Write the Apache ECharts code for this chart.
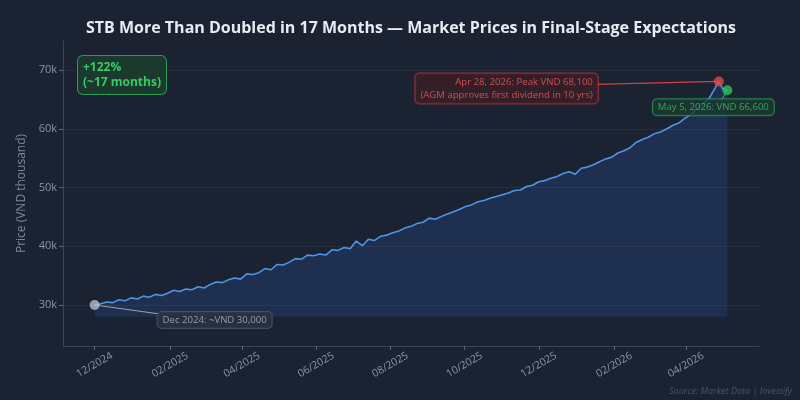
<!DOCTYPE html>
<html>
<head>
<meta charset="utf-8">
<script src="https://cdn.jsdelivr.net/npm/echarts@6/dist/echarts.min.js"></script>
<style>
  html, body { margin: 0; background: #1b2333; }
  #chart { width: 800px; height: 400px; }
</style>
</head>
<body>
<div id="chart"></div>
<script>
// STB close, VND thousand (~5-day steps)
const dates = [
  '2024-12-01','2024-12-06','2024-12-11','2024-12-16','2024-12-21','2024-12-26','2024-12-31',
  '2025-01-05','2025-01-10','2025-01-15','2025-01-20','2025-01-25','2025-01-30',
  '2025-02-04','2025-02-09','2025-02-14','2025-02-19','2025-02-24',
  '2025-03-01','2025-03-06','2025-03-11','2025-03-16','2025-03-21','2025-03-26','2025-03-31',
  '2025-04-05','2025-04-10','2025-04-15','2025-04-20','2025-04-25','2025-04-30',
  '2025-05-05','2025-05-10','2025-05-15','2025-05-20','2025-05-25','2025-05-30',
  '2025-06-04','2025-06-09','2025-06-14','2025-06-19','2025-06-24','2025-06-29',
  '2025-07-04','2025-07-09','2025-07-14','2025-07-19','2025-07-24','2025-07-29',
  '2025-08-03','2025-08-08','2025-08-13','2025-08-18','2025-08-23','2025-08-28',
  '2025-09-02','2025-09-07','2025-09-12','2025-09-17','2025-09-22','2025-09-27',
  '2025-10-02','2025-10-07','2025-10-12','2025-10-17','2025-10-22','2025-10-27',
  '2025-11-01','2025-11-06','2025-11-11','2025-11-16','2025-11-21','2025-11-26',
  '2025-12-01','2025-12-06','2025-12-11','2025-12-16','2025-12-21','2025-12-26','2025-12-31',
  '2026-01-05','2026-01-10','2026-01-15','2026-01-20','2026-01-25','2026-01-30',
  '2026-02-04','2026-02-09','2026-02-14','2026-02-19','2026-02-24',
  '2026-03-01','2026-03-06','2026-03-11','2026-03-16','2026-03-21','2026-03-26','2026-03-31',
  '2026-04-05','2026-04-10','2026-04-15','2026-04-20','2026-04-25','2026-04-28',
  '2026-05-01','2026-05-05'
];
const prices = [
  30.0, 30.2, 30.5, 30.4, 30.9, 30.7, 31.2,
  31.0, 31.5, 31.3, 31.8, 31.6, 32.0,
  32.5, 32.3, 32.7, 32.6, 33.1,
  32.9, 33.5, 33.9, 33.8, 34.3, 34.6, 34.4,
  35.3, 35.2, 35.5, 36.2, 36.0, 36.9,
  36.8, 37.3, 37.9, 37.8, 38.5, 38.4,
  38.7, 38.5, 39.4, 39.3, 39.8, 39.6,
  40.9, 40.1, 41.2, 41.0, 41.7, 41.9,
  42.3, 42.6, 43.1, 43.4, 43.9, 44.1,
  44.8, 44.6, 45.1, 45.5, 45.9, 46.3,
  46.8, 47.1, 47.6, 47.8, 48.2, 48.5,
  48.8, 49.1, 49.5, 49.6, 50.2, 50.4,
  51.0, 51.2, 51.6, 51.9, 52.4, 52.7, 52.3,
  53.3, 53.5, 53.9, 54.4, 54.9, 55.2,
  55.9, 56.3, 56.8, 57.7, 58.2,
  58.6, 59.2, 59.5, 60.0, 60.6, 61.0, 61.8,
  62.5, 63.4, 64.3, 65.2, 67.0, 68.1,
  66.9, 66.6
];

const tickDates = ['2024-12-01','2025-02-01','2025-04-01','2025-06-01','2025-08-01',
                   '2025-10-01','2025-12-01','2026-02-01','2026-04-01'];
const yTicks = [30, 40, 50, 60, 70];

const startPoint = ['2024-12-01', 30.0];
const peakPoint = ['2026-04-28', 68.1];
const lastPoint = ['2026-05-05', 66.6];

const FONT = 'Open Sans';

// date string -> timestamp for the numeric x axis
const ts = d => +echarts.time.parse(d);
const pt = p => [ts(p[0]), p[1]];

var chart = echarts.init(document.getElementById('chart'));

const option = {
  backgroundColor: '#1b2333',
  animation: false,
  title: {
    text: 'STB More Than Doubled in 17 Months — Market Prices in Final-Stage Expectations',
    left: 81,
    top: 15,
    textStyle: { color: '#e8ecf2', fontSize: 16, fontWeight: 'bold', fontFamily: FONT },
  },
  grid: { left: 63, right: 41, top: 41, bottom: 54, containLabel: false },
  xAxis: {
    type: 'value',
    min: ts('2024-11-05'),
    max: ts('2026-05-31'),
    splitLine: { show: false },
    axisLine: { lineStyle: { color: '#3a4558', width: 1 } },
    axisTick: {
      show: true, length: 4,
      customValues: tickDates.map(ts),
      lineStyle: { color: '#5a6478' },
    },
    axisLabel: {
      customValues: tickDates.map(ts),
      formatter: v => echarts.time.format(v, '{MM}/{yyyy}', false),
      rotate: 30,
      align: 'center',
      verticalAlign: 'middle',
      margin: 19,
      color: '#8c95a5',
      fontSize: 10.5,
      fontFamily: FONT,
    },
  },
  yAxis: {
    type: 'value',
    min: 23,
    max: 75,
    name: 'Price (VND thousand)',
    nameLocation: 'middle',
    nameGap: 33,
    nameTextStyle: { color: '#7d8697', fontSize: 12, fontFamily: FONT },
    splitLine: { show: false },
    axisLine: { show: true, lineStyle: { color: '#3a4558', width: 1 } },
    axisTick: {
      show: true, length: 4,
      customValues: yTicks,
      lineStyle: { color: '#5a6478' },
    },
    axisLabel: {
      customValues: yTicks,
      formatter: v => v + 'k',
      margin: 6,
      color: '#8c95a5',
      fontSize: 11,
      fontFamily: FONT,
    },
  },
  series: [
    {
      name: 'STB',
      type: 'line',
      data: dates.map((d, i) => [ts(d), prices[i]]),
      showSymbol: false,
      lineStyle: { color: '#4f94e6', width: 1.6 },
      areaStyle: { color: 'rgba(52, 95, 200, 0.28)', origin: 28 },
      z: 3,
      markLine: {
        silent: true,
        symbol: ['none', 'none'],
        label: { show: false },
        lineStyle: { color: 'rgba(255,255,255,0.05)', width: 1, type: 'solid' },
        data: yTicks.map(v => ({ yAxis: v })),
      },
    },
    {
      name: 'marks',
      type: 'scatter',
      z: 5,
      symbolSize: 10,
      data: [
        {
          value: pt(startPoint),
          itemStyle: { color: '#b9bec8' },
          label: {
            show: true, position: 'inside', offset: [120, 15],
            formatter: 'Dec 2024: ~VND 30,000',
            color: '#aeb5c1', fontSize: 9.6, fontFamily: FONT,
            backgroundColor: '#2a3344', borderColor: '#4c566a', borderWidth: 1,
            borderRadius: 4, padding: [3, 5],
          },
        },
        {
          value: pt(peakPoint),
          itemStyle: { color: '#e04848' },
          label: {
            show: true, position: 'inside', offset: [-121, 7], align: 'right',
            formatter: 'Apr 28, 2026: Peak VND 68,100\n(AGM approves first dividend in 10 yrs)',
            color: '#f25c5c', fontSize: 9.6, lineHeight: 13, fontFamily: FONT,
            backgroundColor: '#3b1e26', borderColor: '#b33a3a', borderWidth: 1,
            borderRadius: 4, padding: [2, 5],
          },
        },
        {
          value: pt(lastPoint),
          itemStyle: { color: '#2fbf5f' },
          label: {
            show: true, position: 'inside', offset: [-14, 17],
            formatter: 'May 5, 2026: VND 66,600',
            color: '#34c466', fontSize: 9.6, fontFamily: FONT,
            backgroundColor: '#1a3a2e', borderColor: '#2a9d55', borderWidth: 1,
            borderRadius: 4, padding: [3, 5],
          },
        },
      ],
      markLine: {
        silent: true,
        symbol: ['none', 'none'],
        label: { show: false },
        data: [
          [{ coord: pt(startPoint), lineStyle: { color: '#9aa2ae', width: 1, type: 'solid' } },
           { coord: pt(['2025-01-22', 28.5]) }],
          [{ coord: pt(['2026-01-17', 67.6]), lineStyle: { color: '#d84040', width: 1.2, type: 'solid' } },
           { coord: pt(peakPoint) }],
          [{ coord: pt(['2026-04-30', 64.9]), lineStyle: { color: '#2fbf5f', width: 1, type: 'solid' } },
           { coord: pt(lastPoint) }],
        ],
      },
    },
  ],
  graphic: [
    {
      type: 'text',
      left: 77,
      top: 55,
      z: 10,
      style: {
        text: '+122%\n(~17 months)',
        fill: '#35cc68',
        font: 'bold 12px "Open Sans"',
        lineHeight: 15,
        backgroundColor: '#1b3a2d',
        borderColor: '#2a9d55',
        borderWidth: 1,
        borderRadius: 5,
        padding: [4, 5],
      },
    },
    {
      type: 'text',
      right: 8,
      bottom: 4,
      style: {
        text: 'Source: Market Data | Investify',
        fill: '#4a5466',
        font: 'italic 9px "Open Sans"',
      },
    },
  ],
};

chart.setOption(option);
</script>
</body>
</html>
